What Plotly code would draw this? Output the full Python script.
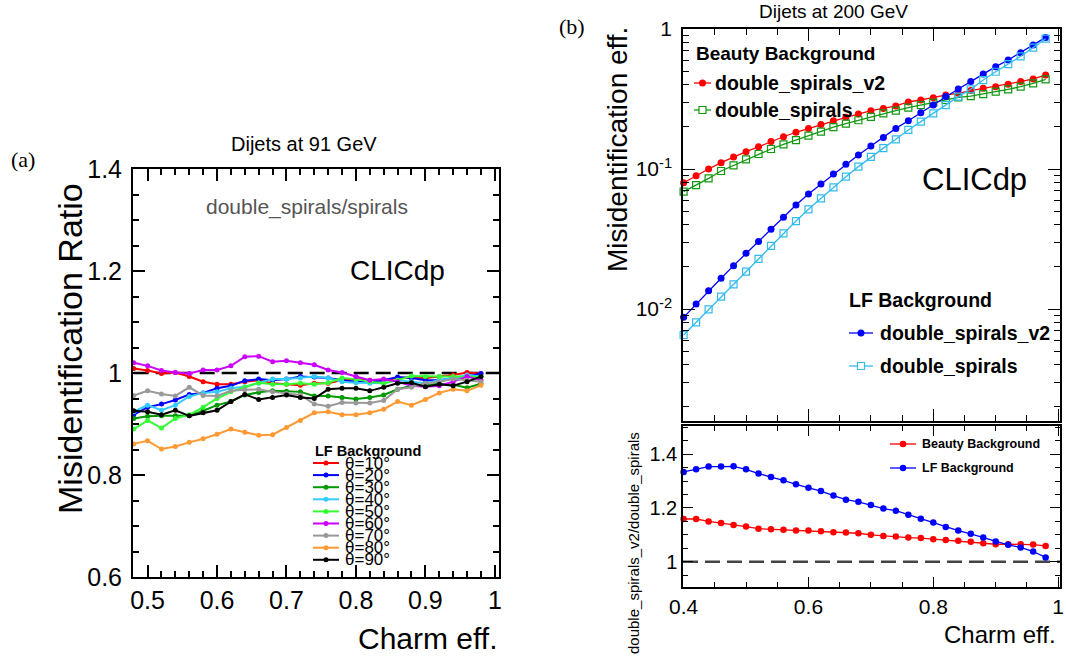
import math
import plotly.graph_objects as go

W, H = 1066, 659

# ---------------- data : panel (a) ----------------
eff_a = [0.48, 0.50, 0.52, 0.54, 0.56, 0.58, 0.60, 0.62, 0.64, 0.66, 0.68, 0.70, 0.72,
         0.74, 0.76, 0.78, 0.80, 0.82, 0.84, 0.86, 0.88, 0.90, 0.92, 0.94, 0.96, 0.98]
theta_labels = ["θ=10°", "θ=20°", "θ=30°", "θ=40°", "θ=50°", "θ=60°", "θ=70°", "θ=80°", "θ=90°"]
theta_colors = ["#ff0000", "#0000ff", "#009900", "#33ccff", "#33ff33", "#cc00ff", "#999999", "#ff9933", "#000000"]

ratio_t10 = [1.009, 1.005, 0.999, 1.001, 0.993, 0.983, 0.978, 0.978, 0.983, 0.986, 0.980, 0.978, 0.976,
             0.980, 0.980, 0.986, 0.988, 0.986, 0.986, 0.990, 0.991, 0.990, 0.993, 0.996, 1.001, 0.999]
ratio_t20 = [0.918, 0.933, 0.939, 0.947, 0.958, 0.961, 0.970, 0.975, 0.985, 0.988, 0.986, 0.988, 0.993,
             0.992, 0.990, 0.986, 0.983, 0.983, 0.986, 0.992, 0.990, 0.986, 0.986, 0.990, 0.993, 0.999]
ratio_t30 = [0.911, 0.915, 0.916, 0.916, 0.916, 0.926, 0.937, 0.944, 0.957, 0.962, 0.965, 0.964, 0.963,
             0.955, 0.955, 0.952, 0.949, 0.952, 0.957, 0.968, 0.975, 0.976, 0.979, 0.977, 0.971, 0.979]
ratio_t40 = [0.924, 0.937, 0.927, 0.937, 0.954, 0.961, 0.963, 0.970, 0.973, 0.980, 0.988, 0.988, 0.990,
             0.993, 0.990, 0.983, 0.981, 0.980, 0.980, 0.986, 0.983, 0.980, 0.986, 0.990, 0.996, 0.993]
ratio_t50 = [0.890, 0.907, 0.892, 0.911, 0.918, 0.933, 0.950, 0.963, 0.972, 0.981, 0.978, 0.978, 0.980,
             0.978, 0.981, 0.990, 0.988, 0.983, 0.980, 0.986, 0.994, 0.993, 0.993, 0.993, 0.993, 0.992]
ratio_t60 = [1.020, 1.014, 1.005, 1.001, 0.999, 1.006, 1.006, 1.014, 1.032, 1.033, 1.022, 1.024, 1.020,
             1.016, 1.006, 1.001, 0.993, 0.986, 0.988, 0.983, 0.975, 0.973, 0.975, 0.983, 0.993, 0.986]
ratio_t70 = [0.956, 0.965, 0.959, 0.955, 0.972, 0.956, 0.955, 0.965, 0.967, 0.968, 0.963, 0.960, 0.957,
             0.939, 0.935, 0.942, 0.941, 0.941, 0.946, 0.968, 0.972, 0.980, 0.983, 0.988, 0.986, 0.983]
ratio_t80 = [0.861, 0.867, 0.851, 0.856, 0.864, 0.871, 0.880, 0.890, 0.884, 0.878, 0.879, 0.893, 0.907,
             0.922, 0.924, 0.918, 0.918, 0.922, 0.929, 0.944, 0.937, 0.948, 0.961, 0.968, 0.965, 0.976]
ratio_t90 = [0.926, 0.924, 0.918, 0.927, 0.916, 0.922, 0.927, 0.944, 0.958, 0.948, 0.952, 0.957, 0.952,
             0.950, 0.968, 0.970, 0.970, 0.965, 0.972, 0.980, 0.981, 0.973, 0.978, 0.975, 0.983, 0.993]
ratios_a = [ratio_t10, ratio_t20, ratio_t30, ratio_t40, ratio_t50, ratio_t60, ratio_t70, ratio_t80, ratio_t90]

# ---------------- data : panel (b) ----------------
eff_b = [0.40, 0.42, 0.44, 0.46, 0.48, 0.50, 0.52, 0.54, 0.56, 0.58, 0.60, 0.62, 0.64, 0.66, 0.68,
         0.70, 0.72, 0.74, 0.76, 0.78, 0.80, 0.82, 0.84, 0.86, 0.88, 0.90, 0.92, 0.94, 0.96, 0.98]
beauty_v2 = [0.0798, 0.0896, 0.100, 0.111, 0.122, 0.133, 0.144, 0.157, 0.170, 0.183, 0.195, 0.208, 0.221, 0.234, 0.247,
             0.261, 0.271, 0.282, 0.301, 0.311, 0.323, 0.338, 0.347, 0.363, 0.377, 0.387, 0.403, 0.421, 0.440, 0.469]
beauty_ds = [0.0689, 0.0768, 0.0858, 0.0968, 0.106, 0.117, 0.128, 0.139, 0.150, 0.161, 0.173, 0.185, 0.199, 0.211, 0.223,
             0.236, 0.250, 0.261, 0.274, 0.286, 0.298, 0.311, 0.325, 0.332, 0.343, 0.357, 0.371, 0.387, 0.409, 0.437]
lf_v2 = [0.00872, 0.01086, 0.01352, 0.01657, 0.0204, 0.0250, 0.0303, 0.0371, 0.0452, 0.0553, 0.0663, 0.0781, 0.0921, 0.108, 0.126,
         0.146, 0.168, 0.195, 0.221, 0.252, 0.286, 0.329, 0.373, 0.421, 0.477, 0.538, 0.601, 0.677, 0.769, 0.871]
lf_ds = [0.00652, 0.00803, 0.00995, 0.01225, 0.0150, 0.0185, 0.0228, 0.0282, 0.0347, 0.0425, 0.0515, 0.0617, 0.0740, 0.0881, 0.104,
         0.122, 0.141, 0.163, 0.190, 0.218, 0.250, 0.286, 0.329, 0.371, 0.432, 0.495, 0.562, 0.638, 0.736, 0.853]
ratio_beauty = [1.159, 1.159, 1.150, 1.144, 1.137, 1.131, 1.123, 1.121, 1.119, 1.116, 1.116, 1.113, 1.110, 1.109, 1.106,
                1.100, 1.096, 1.094, 1.090, 1.088, 1.084, 1.081, 1.078, 1.074, 1.069, 1.065, 1.065, 1.065, 1.064, 1.059]
ratio_lf = [1.334, 1.344, 1.354, 1.354, 1.355, 1.344, 1.328, 1.315, 1.303, 1.288, 1.275, 1.263, 1.246, 1.231, 1.223,
            1.211, 1.198, 1.190, 1.175, 1.160, 1.146, 1.129, 1.116, 1.104, 1.090, 1.075, 1.063, 1.053, 1.038, 1.016]

# ---------------- styling helpers ----------------
NARROW = "Liberation Sans Narrow, Liberation Sans, Arial, sans-serif"
SANS = "Liberation Sans, Arial, sans-serif"
SERIF = "Liberation Serif, Times New Roman, serif"


def px(xp):
    return xp / W


def py(yp):
    return 1 - yp / H


fig = go.Figure()

# panel (a) curves
for lab, col, vals in zip(theta_labels, theta_colors, ratios_a):
    fig.add_trace(go.Scatter(x=eff_a, y=vals, mode="lines+markers", name=lab,
                             line=dict(color=col, width=2), marker=dict(color=col, size=5),
                             cliponaxis=False, xaxis="x", yaxis="y", showlegend=False))

# panel (b) top
fig.add_trace(go.Scatter(x=eff_b, y=beauty_v2, mode="lines+markers", name="Beauty double_spirals_v2",
                         line=dict(color="#ff0000", width=1.3), marker=dict(color="#ff0000", size=7),
                         xaxis="x2", yaxis="y2", showlegend=False, cliponaxis=False))
fig.add_trace(go.Scatter(x=eff_b, y=beauty_ds, mode="lines+markers", name="Beauty double_spirals",
                         line=dict(color="#119911", width=1.3),
                         marker=dict(color="#119911", size=7, symbol="square-open", line=dict(width=1.2)),
                         xaxis="x2", yaxis="y2", showlegend=False, cliponaxis=False))
fig.add_trace(go.Scatter(x=eff_b, y=lf_v2, mode="lines+markers", name="LF double_spirals_v2",
                         line=dict(color="#0000ff", width=1.3), marker=dict(color="#0000ff", size=7),
                         xaxis="x2", yaxis="y2", showlegend=False, cliponaxis=False))
fig.add_trace(go.Scatter(x=eff_b, y=lf_ds, mode="lines+markers", name="LF double_spirals",
                         line=dict(color="#33bbee", width=1.3),
                         marker=dict(color="#33bbee", size=7, symbol="square-open", line=dict(width=1.2)),
                         xaxis="x2", yaxis="y2", showlegend=False, cliponaxis=False))

# panel (b) ratio
fig.add_trace(go.Scatter(x=eff_b, y=ratio_beauty, mode="lines+markers", name="Beauty Background",
                         line=dict(color="#ff0000", width=1.3), marker=dict(color="#ff0000", size=6.5),
                         xaxis="x3", yaxis="y3", showlegend=False, cliponaxis=False))
fig.add_trace(go.Scatter(x=eff_b, y=ratio_lf, mode="lines+markers", name="LF Background",
                         line=dict(color="#0000ff", width=1.3), marker=dict(color="#0000ff", size=6.5),
                         xaxis="x3", yaxis="y3", showlegend=False, cliponaxis=False))

shapes = []
# reference lines at ratio 1
shapes.append(dict(type="line", xref="x", yref="y", x0=0.48, x1=1.006, y0=1, y1=1,
                   line=dict(color="black", width=2.5, dash="15px,7px"), layer="below"))
shapes.append(dict(type="line", xref="x3", yref="y3", x0=0.399, x1=1.003, y0=1, y1=1,
                   line=dict(color="#444444", width=2.5, dash="15px,7px"), layer="below"))

annotations = []


def text(t, x, y, size, font=SANS, color="black", xanchor="center", yanchor="middle", angle=0):
    annotations.append(dict(text=t, x=px(x), y=py(y), xref="paper", yref="paper", showarrow=False,
                            xanchor=xanchor, yanchor=yanchor, textangle=angle,
                            font=dict(family=font, size=size, color=color)))


def legend_key(x0, x1, yc, color, width, msize, square=False):
    shapes.append(dict(type="line", xref="paper", yref="paper", x0=px(x0), x1=px(x1), y0=py(yc), y1=py(yc),
                       line=dict(color=color, width=width)))
    cx = (x0 + x1) / 2
    r = msize / 2
    if square:
        shapes.append(dict(type="rect", xref="paper", yref="paper", x0=px(cx - r), x1=px(cx + r),
                           y0=py(yc + r), y1=py(yc - r), line=dict(color=color, width=1.2), fillcolor="white"))
    else:
        shapes.append(dict(type="circle", xref="paper", yref="paper", x0=px(cx - r), x1=px(cx + r),
                           y0=py(yc + r), y1=py(yc - r), line=dict(color=color, width=0), fillcolor=color))


# ---- panel (a) texts ----
text("(a)", 23, 160, 22, SERIF)
text("Dijets at 91 GeV", 304, 144, 20, NARROW)
text("double_spirals/spirals", 307, 207, 21, NARROW, color="#555555")
text("CLICdp", 397, 270, 28, NARROW)
text("Misidentification Ratio", 70, 349, 34, SANS, angle=-90)
text("Charm eff.", 500, 638, 30, NARROW, xanchor="right")
text("<b>LF Background</b>", 313, 451, 14.5, NARROW, xanchor="left")
for i, (lab, col) in enumerate(zip(theta_labels, theta_colors)):
    yc = 463 + 12.1 * i
    legend_key(313, 339, yc, col, 2, 5)
    text(lab, 343, yc, 17, NARROW, xanchor="left")

# ---- panel (b) texts ----
text("(b)", 572, 27, 22, SERIF)
text("Dijets at 200 GeV", 833, 12, 19, SANS)
text("Misidentification eff.", 618, 150, 28, SANS, angle=-90)
text("CLICdp", 974, 180, 31, SANS)
text("<b>Beauty Background</b>", 694, 53, 19, SANS, xanchor="left")
legend_key(694, 711, 83, "#ff0000", 1.3, 7)
text("<b>double_spirals_v2</b>", 713, 83, 19.5, SANS, xanchor="left")
legend_key(694, 711, 110, "#119911", 1.3, 7, square=True)
text("<b>double_spirals</b>", 713, 110, 19.5, SANS, xanchor="left")
text("<b>LF Background</b>", 847, 300, 19.5, SANS, xanchor="left")
legend_key(849, 873, 333, "#0000ff", 1.3, 7)
text("<b>double_spirals_v2</b>", 878, 333, 19.5, SANS, xanchor="left")
legend_key(849, 873, 366, "#33bbee", 1.3, 7, square=True)
text("<b>double_spirals</b>", 878, 366, 19.5, SANS, xanchor="left")
legend_key(890, 916, 444, "#ff0000", 1.3, 6.5)
text("<b>Beauty Background</b>", 920, 444, 12.5, SANS, xanchor="left")
legend_key(890, 916, 468, "#0000ff", 1.3, 6.5)
text("<b>LF Background</b>", 920, 468, 12.5, SANS, xanchor="left")
text("double_spirals_v2/double_spirals", 633, 543, 15, SANS, angle=-90)
text("Charm eff.", 1058, 634, 24, SANS, xanchor="right")

axis_common = dict(showline=True, linecolor="black", mirror="ticks", ticks="inside",
                   tickcolor="black", showgrid=False, zeroline=False, automargin=False, layer="above traces")

log_minor = [m * 10 ** e for e in (-3, -2, -1) for m in range(2, 10)]

fig.update_layout(
    width=W, height=H,
    margin=dict(l=0, r=0, t=0, b=0, pad=0, autoexpand=False),
    paper_bgcolor="white", plot_bgcolor="white",
    showlegend=False,
    xaxis=dict(domain=[px(133), px(499)], range=[0.479, 1.006], anchor="y",
               tickmode="linear", tick0=0.5, dtick=0.1, ticklen=12, tickwidth=2, linewidth=2,
               minor=dict(ticks="inside", dtick=0.02, tick0=0.5, ticklen=6, tickwidth=1.5, tickcolor="black"),
               tickfont=dict(family=NARROW, size=25, color="black"), **axis_common),
    yaxis=dict(domain=[py(577), py(169)], range=[0.6, 1.4], anchor="x",
               tickmode="linear", tick0=0.6, dtick=0.2, ticklen=12, tickwidth=2, linewidth=2,
               ticklabelstandoff=4,
               minor=dict(ticks="inside", dtick=0.05, tick0=0.6, ticklen=6, tickwidth=1.5, tickcolor="black"),
               tickfont=dict(family=NARROW, size=25, color="black"), **axis_common),
    xaxis2=dict(domain=[px(683), px(1060)], range=[0.399, 1.003], anchor="y2", showticklabels=False,
                tickmode="linear", tick0=0.4, dtick=0.2, ticklen=12, tickwidth=1.3, linewidth=1.5,
                minor=dict(ticks="inside", dtick=0.05, tick0=0.4, ticklen=6, tickwidth=1, tickcolor="black"),
                **axis_common),
    yaxis2=dict(domain=[py(421), py(29)], type="log", range=[-2.8, 0], anchor="x2",
                tickmode="array", tickvals=[0.01, 0.1, 1],
                ticktext=["10<sup>-2</sup>", "10<sup>-1</sup>", "1"],
                ticklen=12, tickwidth=1.3, linewidth=1.5, ticklabelstandoff=5,
                minor=dict(ticks="inside", tickmode="array", tickvals=log_minor, ticklen=6, tickwidth=1,
                           tickcolor="black"),
                tickfont=dict(family=SANS, size=21, color="black"), **axis_common),
    xaxis3=dict(domain=[px(683), px(1060)], range=[0.399, 1.003], anchor="y3",
                tickmode="linear", tick0=0.4, dtick=0.2, ticklen=10, tickwidth=1.3, linewidth=1.5,
                minor=dict(ticks="inside", dtick=0.05, tick0=0.4, ticklen=5, tickwidth=1, tickcolor="black"),
                tickfont=dict(family=SANS, size=21, color="black"), **axis_common),
    yaxis3=dict(domain=[py(587), py(426)], range=[0.906, 1.505], anchor="x3",
                tickmode="linear", tick0=1.0, dtick=0.2, ticklen=10, tickwidth=1.3, linewidth=1.5,
                minor=dict(ticks="inside", dtick=0.05, tick0=1.0, ticklen=5, tickwidth=1, tickcolor="black"),
                tickfont=dict(family=SANS, size=20, color="black"), **axis_common),
    shapes=shapes,
    annotations=annotations,
)

fig.write_html("out.html", config={"displayModeBar": False},
               post_script="document.body.style.margin='0px';document.body.style.padding='0px';")
